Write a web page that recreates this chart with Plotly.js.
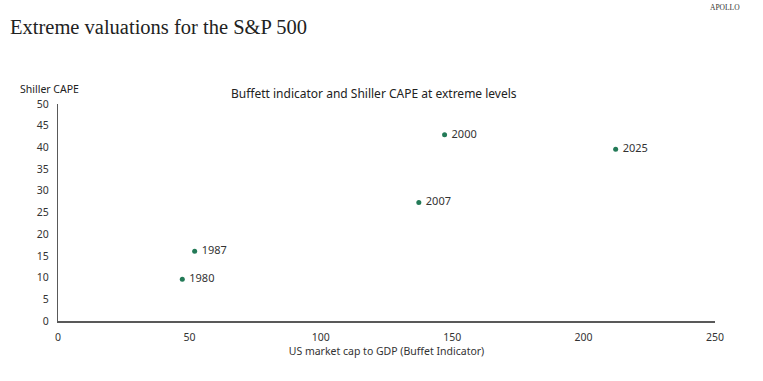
<!DOCTYPE html>
<html>
<head>
<meta charset="utf-8">
<script src="https://cdn.plot.ly/plotly-3.0.1.min.js"></script>
<style>html,body{margin:0;padding:0;background:#fff;}#chart{width:763px;height:381px;}</style>
</head>
<body>
<div id="chart"></div>
<script>
const years = ["1980", "1987", "2000", "2007", "2025"];
const buffettIndicator = [47.3, 52.0, 147.1, 137.3, 212.2];
const shillerCAPE = [9.6, 16.1, 42.9, 27.3, 39.6];
const xTicks = [0, 50, 100, 150, 200, 250];
const yTicks = [0, 5, 10, 15, 20, 25, 30, 35, 40, 45, 50];

const W = 763, H = 381;
const L = 57.5, R = 715, T = 104, B = 321;
const px = x => (x - L) / (R - L);
const py = y => (B - y) / (B - T);

const trace = {
  type: 'scatter',
  mode: 'markers+text',
  x: buffettIndicator,
  y: shillerCAPE,
  text: years.map(s => ' ' + s),
  textposition: 'middle right',
  textfont: {family: 'Noto Sans, sans-serif', size: 11, color: '#333333'},
  marker: {color: '#237a57', size: 5},
  cliponaxis: false,
  hoverinfo: 'none'
};

const axisFont = {family: 'Noto Sans, sans-serif', size: 10.5, color: '#333333'};

const layout = {
  width: W, height: H,
  margin: {l: L, r: W - R, t: T, b: H - B, pad: 0},
  paper_bgcolor: '#ffffff',
  plot_bgcolor: '#ffffff',
  showlegend: false,
  font: axisFont,
  title: {
    text: 'Extreme valuations for the S&amp;P 500',
    font: {family: 'Liberation Serif, serif', size: 20.5, color: '#222222'},
    x: 10 / W, xanchor: 'left', xref: 'container',
    y: 1 - 27 / H, yanchor: 'middle', yref: 'container'
  },
  xaxis: {
    range: [0, 250],
    tickvals: xTicks,
    ticktext: xTicks.map(String),
    showgrid: false, zeroline: false,
    showline: true, linecolor: '#595959', linewidth: 1.5,
    ticks: '', ticklen: 0,
    ticklabelstandoff: 6,
    tickfont: axisFont,
    title: {text: 'US market cap to GDP (Buffet Indicator)', font: axisFont, standoff: 4},
    fixedrange: true
  },
  yaxis: {
    range: [0, 50],
    tickvals: yTicks,
    ticktext: yTicks.map(String),
    showgrid: false, zeroline: false,
    showline: true, linecolor: '#595959', linewidth: 1.2,
    ticks: '', ticklen: 0,
    ticklabelstandoff: 6,
    tickfont: axisFont,
    fixedrange: true
  },
  annotations: [
    {
      text: 'Buffett indicator and Shiller CAPE at extreme levels',
      xref: 'paper', yref: 'paper',
      x: px(374), y: py(93), xanchor: 'center', yanchor: 'middle',
      showarrow: false,
      font: {family: 'Noto Sans, sans-serif', size: 12, color: '#222222'}
    },
    {
      text: 'Shiller CAPE',
      xref: 'paper', yref: 'paper',
      x: px(17), y: py(89), xanchor: 'left', yanchor: 'middle',
      showarrow: false,
      font: {family: 'Noto Sans, sans-serif', size: 10.5, color: '#222222'}
    },
    {
      text: 'APOLLO',
      xref: 'paper', yref: 'paper',
      x: px(725), y: py(7), xanchor: 'center', yanchor: 'middle',
      showarrow: false,
      font: {family: 'Liberation Serif, serif', size: 7.5, color: '#333333'}
    }
  ]
};

Plotly.newPlot('chart', [trace], layout, {displayModeBar: false, staticPlot: true});
</script>
</body>
</html>
